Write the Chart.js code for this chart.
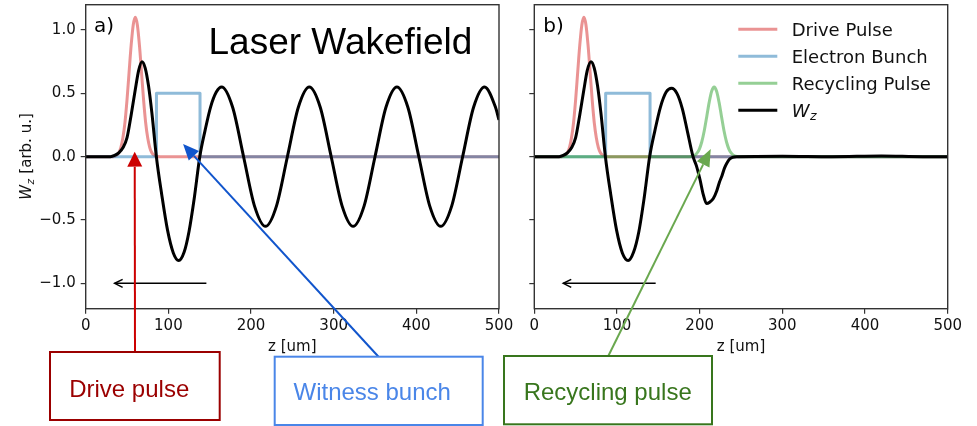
<!DOCTYPE html>
<html><head><meta charset="utf-8">
<script src="https://cdn.jsdelivr.net/npm/chart.js@4.4.1/dist/chart.umd.min.js"></script>
<style>
html,body{margin:0;padding:0;background:#fff;}
body{width:977px;height:426px;overflow:hidden;position:relative;}
canvas{position:absolute;top:0;}
#ca{left:0;}
#cb{left:500px;}
</style></head>
<body>
<canvas id="ca" width="520" height="426"></canvas>
<canvas id="cb" width="477" height="426"></canvas>
<script>
// ---------- data ----------
const xTicks = [0, 100, 200, 300, 400, 500];
const yTicks = [-1.0, -0.5, 0.0, 0.5, 1.0];
const yTickLabels = ['\u22121.0', '\u22120.5', '0.0', '0.5', '1.0'];
const seriesNames = ['Drive Pulse', 'Electron Bunch', 'Recycling Pulse', 'W_z'];

// Drive pulse (both panels)
const driveZ = [0,30,35,37.5,40,42.5,45,47.5,50,52.5,55,57.5,60,62.5,65,67.5,70,72.5,75,77.5,80,82.5,85,90,500];
const driveW = [0,0,0.004,0.012,0.031,0.072,0.149,0.27,0.45,0.667,0.88,1.04,1.1,1.04,0.88,0.667,0.45,0.27,0.149,0.072,0.031,0.012,0.004,0,0];

// Electron bunch (flat-top)
const bunchZA = [0,85.6,85.6,138.3,138.3,500];
const bunchZB = [0,86.3,86.3,140,140,500];
const bunchW  = [0,0,0.5,0.5,0,0];

// Recycling pulse (panel b)
const recycleZ = [0,185,189.5,193.5,196.5,199.5,202.5,205.5,208.5,211.5,214.5,217.5,220.5,223.5,226.5,229.5,232.5,235.5,238.5,241.5,245.5,250,500];
const recycleW = [0,0,0.002,0.010,0.026,0.058,0.116,0.203,0.314,0.429,0.517,0.55,0.517,0.429,0.314,0.203,0.116,0.058,0.026,0.010,0.002,0,0];

// W_z, panel a (laser wakefield)
const wzAZ = [0,30,35,40,45,50,55,60,64,68,72,76,80,85.5,92,99,106,112.5,119,125,131.5,138,144.5,151,158,164.5,177.75,191,204.25,217.5,230.75,244,257.25,270.5,283.75,297,310.25,323.5,336.75,350,363.25,376.5,389.75,403,416.25,429.5,442.75,456,469.25,482.5,495.75,500];
const wzAW = [0,0,0.01,0.03,0.07,0.15,0.33,0.53,0.68,0.75,0.70,0.56,0.35,0,-0.30,-0.58,-0.76,-0.82,-0.755,-0.59,-0.32,0,0.21,0.39,0.51,0.55,0.39,0,-0.39,-0.55,-0.39,0,0.39,0.55,0.39,0,-0.39,-0.55,-0.39,0,0.39,0.55,0.39,0,-0.39,-0.55,-0.39,0,0.39,0.55,0.39,0.29];

// W_z, panel b (with recycling pulse)
const wzBZ = [0,30,35,40,45,50,55,60,64,68.5,72.5,76.5,80.5,86,92.5,99.5,106.5,113.5,120,126.5,133,139.5,146,152.5,159.5,166,172.5,179,185.5,192,196,200.4,204.4,208.3,212,216.5,220.6,224,227,230,233,236,240,245,300,360,420,470,500];
const wzBW = [0,0,0.01,0.03,0.07,0.15,0.33,0.53,0.68,0.75,0.70,0.56,0.35,0,-0.30,-0.58,-0.76,-0.82,-0.755,-0.59,-0.32,0,0.21,0.39,0.51,0.54,0.50,0.38,0.19,0,-0.07,-0.18,-0.30,-0.37,-0.36,-0.33,-0.27,-0.2,-0.15,-0.09,-0.05,-0.02,-0.005,0,0.004,0,0.006,0,0];

// ---------- styling ----------
const COL = {
  drive: 'rgba(214,39,40,0.5)',
  bunch: 'rgba(31,119,180,0.5)',
  recycle: 'rgba(44,160,44,0.5)',
  wz: '#000'
};
const SPINE = '#333';
const TXT = '#111';
const FONT = 'DejaVu Sans';
const TICK_SIZE = 15;

function pts(zs, ws){ return zs.map((z,i)=>({x:z, y:ws[i]})); }

function ds(label, zs, ws, color, order, smooth){
  return {
    label, data: pts(zs, ws), borderColor: color, backgroundColor: color,
    borderWidth: 3, pointRadius: 0, fill: false, order,
    tension: 0, cubicInterpolationMode: smooth ? 'monotone' : 'default',
    borderJoinStyle: 'round', borderCapStyle: 'butt'
  };
}

function arrowFilled(ctx, x0, y0, x1, y1, color, lw, hl, hw){
  const a = Math.atan2(y1-y0, x1-x0);
  const bx = x1 - hl*Math.cos(a), by = y1 - hl*Math.sin(a);
  ctx.save();
  ctx.strokeStyle = color; ctx.lineWidth = lw;
  ctx.beginPath(); ctx.moveTo(x0,y0); ctx.lineTo(bx,by); ctx.stroke();
  ctx.fillStyle = color;
  ctx.beginPath(); ctx.moveTo(x1,y1);
  ctx.lineTo(bx + hw*Math.sin(a), by - hw*Math.cos(a));
  ctx.lineTo(bx - hw*Math.sin(a), by + hw*Math.cos(a));
  ctx.closePath(); ctx.fill();
  ctx.restore();
}

function arrowOpen(ctx, x0, y0, x1, y1, color, lw, hl, hw){
  const a = Math.atan2(y1-y0, x1-x0);
  const bx = x1 - hl*Math.cos(a), by = y1 - hl*Math.sin(a);
  ctx.save();
  ctx.strokeStyle = color; ctx.lineWidth = lw; ctx.lineJoin='miter';
  ctx.beginPath(); ctx.moveTo(x0,y0); ctx.lineTo(x1,y1); ctx.stroke();
  ctx.beginPath();
  ctx.moveTo(bx + hw*Math.sin(a), by - hw*Math.cos(a));
  ctx.lineTo(x1,y1);
  ctx.lineTo(bx - hw*Math.sin(a), by + hw*Math.cos(a));
  ctx.stroke();
  ctx.restore();
}

function textBox(ctx, x0, y0, x1, y1, color, text, cx, baseY){
  ctx.save();
  ctx.fillStyle = '#fff';
  ctx.fillRect(x0, y0, x1-x0, y1-y0);
  ctx.strokeStyle = color; ctx.lineWidth = 2;
  ctx.strokeRect(x0, y0, x1-x0, y1-y0);
  ctx.fillStyle = color;
  ctx.font = '24px "Liberation Sans", Arial, sans-serif';
  ctx.textAlign = 'center'; ctx.textBaseline = 'alphabetic';
  ctx.fillText(text, cx, baseY);
  ctx.restore();
}

// draws "W" italic + subscript "z" + rest, starting at x (baseline y); returns width
function wzText(ctx, x, y, size, rest, measureOnly){
  ctx.save();
  ctx.textBaseline = 'alphabetic'; ctx.textAlign = 'left';
  ctx.font = 'italic ' + size + 'px "' + FONT + '"';
  const w1 = ctx.measureText('W').width;
  const sub = size*0.7;
  ctx.font = 'italic ' + sub + 'px "' + FONT + '"';
  const w2 = ctx.measureText('z').width;
  ctx.font = size + 'px "' + FONT + '"';
  const w3 = rest ? ctx.measureText(rest).width : 0;
  if (!measureOnly){
    ctx.font = 'italic ' + size + 'px "' + FONT + '"';
    ctx.fillText('W', x, y);
    ctx.font = 'italic ' + sub + 'px "' + FONT + '"';
    ctx.fillText('z', x + w1 + 0.5, y + size*0.2);
    if (rest){ ctx.font = size + 'px "' + FONT + '"'; ctx.fillText(rest, x + w1 + w2 + 1, y); }
  }
  ctx.restore();
  return w1 + w2 + 1 + w3;
}

function spines(chart){
  const {ctx, chartArea:a} = chart;
  ctx.save();
  ctx.strokeStyle = SPINE; ctx.lineWidth = 1.4;
  ctx.strokeRect(a.left, a.top, a.right-a.left, a.bottom-a.top);
  ctx.restore();
}

function makeOptions(yAxisWidth, padRight, showYLabels){
  return {
    responsive: false, animation: false, events: [],
    layout: { padding: { left: 0, right: padRight, top: 4.7, bottom: 0 } },
    plugins: { legend: { display: false }, tooltip: { enabled: false } },
    scales: {
      x: {
        type: 'linear', min: 0, max: 500,
        afterBuildTicks: s => { s.ticks = xTicks.map(v => ({ value: v })); },
        afterFit: s => { s.height = 117.3; s.paddingLeft = 0; s.paddingRight = 0; s.paddingTop = 0; s.paddingBottom = 0; },
        grid: { display: true, drawOnChartArea: false, drawTicks: true, tickLength: 5, color: SPINE, lineWidth: 1.2 },
        border: { display: false },
        ticks: { color: TXT, font: { family: FONT, size: TICK_SIZE }, padding: 3.5, maxRotation: 0, autoSkip: false,
                 callback: v => String(v) },
        title: { display: true, text: 'z [um]', color: TXT, font: { family: FONT, size: TICK_SIZE }, padding: { top: 0, bottom: 70 } }
      },
      y: {
        type: 'linear', min: -1.2, max: 1.2,
        afterBuildTicks: s => { s.ticks = yTicks.map(v => ({ value: v })); },
        afterFit: s => { s.width = yAxisWidth; s.paddingTop = 0; s.paddingBottom = 0; s.paddingLeft = 0; s.paddingRight = 0; },
        grid: { display: true, drawOnChartArea: false, drawTicks: true, tickLength: 5, color: SPINE, lineWidth: 1.2 },
        border: { display: false },
        ticks: { color: TXT, font: { family: FONT, size: TICK_SIZE }, padding: 5, autoSkip: false,
                 callback: (v) => { if (!showYLabels) return ''; const i = yTicks.findIndex(t => Math.abs(t - v) < 1e-9); return i >= 0 ? yTickLabels[i] : ''; } }
      }
    }
  };
}

// ---------- panel a ----------
const panelA = {
  id: 'panelA',
  afterDatasetsDraw(chart){ spines(chart); },
  afterDraw(chart){
    const ctx = chart.ctx, xs = chart.scales.x, ys = chart.scales.y;
    ctx.save();
    ctx.fillStyle = '#000'; ctx.textBaseline = 'alphabetic'; ctx.textAlign = 'left';
    ctx.font = '20px "' + FONT + '"';
    ctx.fillText('a)', 94, 31.7);
    ctx.font = '37px "Liberation Sans", Arial, sans-serif';
    ctx.fillText('Laser Wakefield', 208.5, 53.5);
    // y axis title (rotated)
    ctx.save();
    ctx.translate(30.5, 156.5);
    ctx.rotate(-Math.PI/2);
    ctx.fillStyle = TXT;
    const w = wzText(ctx, 0, 0, TICK_SIZE, ' [arb. u.]', true);
    wzText(ctx, -w/2, 0, TICK_SIZE, ' [arb. u.]', false);
    ctx.restore();
    // propagation arrow
    arrowOpen(ctx, xs.getPixelForValue(146), ys.getPixelForValue(-1.0), xs.getPixelForValue(35), ys.getPixelForValue(-1.0), '#000', 1.5, 8, 4);
    // annotation arrows
    arrowFilled(ctx, 135, 352, xs.getPixelForValue(59.3), ys.getPixelForValue(0.04), '#cc0000', 2, 15, 7.5);
    arrowFilled(ctx, 378.3, 356.5, xs.getPixelForValue(117.8), ys.getPixelForValue(0.10), '#1155cc', 2, 16, 7);
    // annotation boxes
    textBox(ctx, 50, 352, 219.7, 420, '#9b0000', 'Drive pulse', 129.2, 396.7);
    textBox(ctx, 274.7, 356.7, 482.7, 425, '#4a86e8', 'Witness bunch', 372.2, 400);
    ctx.restore();
  }
};

new Chart(document.getElementById('ca'), {
  type: 'line',
  data: { datasets: [
    ds(seriesNames[0], driveZ, driveW, COL.drive, 3, true),
    ds(seriesNames[1], bunchZA, bunchW, COL.bunch, 2, false),
    ds(seriesNames[3], wzAZ, wzAW, COL.wz, 0, true)
  ]},
  options: makeOptions(85.7, 21, true),
  plugins: [panelA]
});

// ---------- panel b ----------
const panelB = {
  id: 'panelB',
  afterDatasetsDraw(chart){ spines(chart); },
  afterDraw(chart){
    const ctx = chart.ctx, xs = chart.scales.x, ys = chart.scales.y;
    ctx.save();
    ctx.fillStyle = '#000'; ctx.textBaseline = 'alphabetic'; ctx.textAlign = 'left';
    ctx.font = '20px "' + FONT + '"';
    ctx.fillText('b)', 43.3, 31.7);
    // legend
    const rows = [
      { c: COL.drive, t: seriesNames[0] },
      { c: COL.bunch, t: seriesNames[1] },
      { c: COL.recycle, t: seriesNames[2] },
      { c: COL.wz, t: null }
    ];
    const ly = [29.3, 56.3, 83.3, 110.3];
    rows.forEach((r, i) => {
      ctx.strokeStyle = r.c; ctx.lineWidth = 3;
      ctx.beginPath(); ctx.moveTo(238.3, ly[i]); ctx.lineTo(277.3, ly[i]); ctx.stroke();
      ctx.fillStyle = TXT;
      if (r.t){
        ctx.font = '18px "' + FONT + '"';
        ctx.fillText(r.t, 291.7, ly[i] + 6.5);
      } else {
        wzText(ctx, 291.7, ly[i] + 6.5, 18, '', false);
      }
    });
    // propagation arrow
    arrowOpen(ctx, xs.getPixelForValue(146.8), ys.getPixelForValue(-1.0), xs.getPixelForValue(35), ys.getPixelForValue(-1.0), '#000', 1.5, 8, 4);
    // annotation
    arrowFilled(ctx, 108.3, 356, xs.getPixelForValue(213.4), ys.getPixelForValue(0.06), '#6aa84f', 2, 17, 7);
    textBox(ctx, 4, 356, 212, 424.3, '#38761d', 'Recycling pulse', 107.7, 400);
    ctx.restore();
  }
};

new Chart(document.getElementById('cb'), {
  type: 'line',
  data: { datasets: [
    ds(seriesNames[0], driveZ, driveW, COL.drive, 3, true),
    ds(seriesNames[1], bunchZB, bunchW, COL.bunch, 2, false),
    ds(seriesNames[2], recycleZ, recycleW, COL.recycle, 1, true),
    ds(seriesNames[3], wzBZ, wzBW, COL.wz, 0, true)
  ]},
  options: makeOptions(34.3, 29.3, false),
  plugins: [panelB]
});
</script>
</body></html>
